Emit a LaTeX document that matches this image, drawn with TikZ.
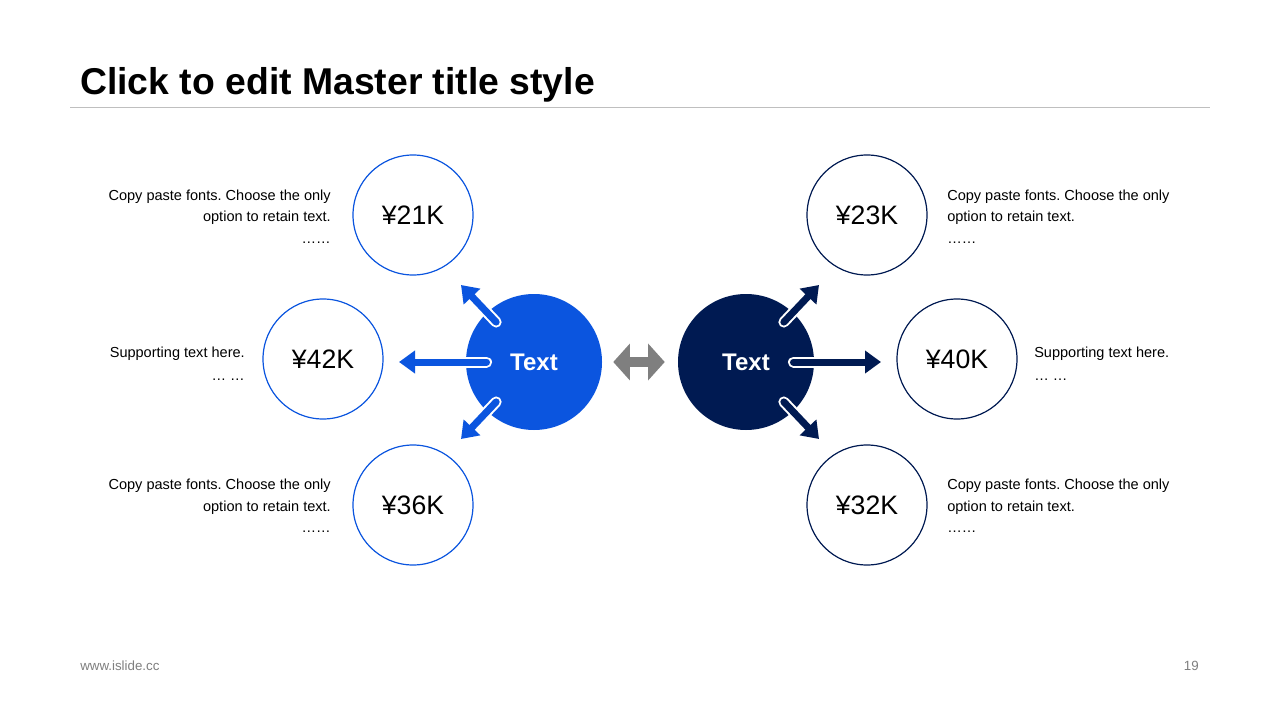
\documentclass[tikz,border=0pt]{standalone}
\usepackage{fontspec}
\setmainfont{Liberation Sans}
\usetikzlibrary{arrows.meta}
\definecolor{cblue}{HTML}{0B55DF}
\definecolor{cnavy}{HTML}{001A52}
\definecolor{cgray}{HTML}{7F7F7F}
\definecolor{cline}{HTML}{BFBFBF}
\definecolor{cfoot}{HTML}{7F7F7F}
\begin{document}
\frenchspacing
\begin{tikzpicture}[x=0.75pt,y=-0.75pt,
  bigcirc/.style={circle, minimum size=102pt, inner sep=0pt, text=white,
    font=\fontsize{18}{21}\selectfont\bfseries},
  ring/.style={circle, draw, line width=0.9pt, fill=white, minimum size=90pt, inner sep=0pt,
    font=\fontsize{20}{24}\selectfont},
  body/.style={inner sep=0pt, font=\fontsize{10.9}{15.9}\selectfont},
  halo/.style={draw=white, line width=8.25pt, line cap=round, shorten >=12pt},
  outarrow/.style={line width=5.25pt, line cap=round,
    -{Triangle[length=12pt,width=16.5pt]}},
  swap/.style={draw=cgray, line width=7.5pt,
    {Triangle[length=12.5pt,width=27pt]}-{Triangle[length=12.5pt,width=27pt]}}
]
\fill[white] (0,0) rectangle (1280,720);
\useasboundingbox (0,0) rectangle (1280,720);

% title
\node[anchor=base west, inner sep=0pt, font=\fontsize{28}{34}\selectfont\bfseries] (title) at (80,95) {Click to edit Master title style};
\draw[cline, line width=0.75pt] (70,108) -- (1210,108);

% central circles
\node[bigcirc, fill=cblue] (L) at (534,362) {Text};
\node[bigcirc, fill=cnavy] (R) at (746,362) {Text};

% outer rings
\node[ring, draw=cblue] (c21) at (413,215) {¥21K};
\node[ring, draw=cblue] (c42) at (323,359) {¥42K};
\node[ring, draw=cblue] (c36) at (413,505) {¥36K};
\node[ring, draw=cnavy] (c23) at (867,215) {¥23K};
\node[ring, draw=cnavy] (c40) at (957,359) {¥40K};
\node[ring, draw=cnavy] (c32) at (867,505) {¥32K};

% arrow tips
\coordinate (tL1) at (461,285);
\coordinate (tL2) at (399,362);
\coordinate (tL3) at (461,439);
\coordinate (tR1) at (819,285);
\coordinate (tR2) at (881,362);
\coordinate (tR3) at (819,439);

\foreach \t/\s in {tL1/41.25pt, tL2/35.6pt, tL3/41.25pt} {
  \draw[halo, shorten <=\s] (L.center) -- (\t);
  \draw[outarrow, draw=cblue, fill=cblue, shorten <=\s] (L.center) -- (\t);
}
\foreach \t/\s in {tR1/41.25pt, tR2/35.6pt, tR3/41.25pt} {
  \draw[halo, shorten <=\s] (R.center) -- (\t);
  \draw[outarrow, draw=cnavy, fill=cnavy, shorten <=\s] (R.center) -- (\t);
}

% swap arrow between the circles
\draw[swap, shorten <=8.25pt, shorten >=9.75pt] (L.east) -- (R.west);

% texts left
\node[body, anchor=north east, align=right] (txL1) at (331,190) {Copy paste fonts. Choose the only\\option to retain text.\\……};
\node[body, anchor=north east, align=right] (txL2) at (245,347) {Supporting text here.\\[1.5pt]… …};
\node[body, anchor=north east, align=right] (txL3) at (331,479) {Copy paste fonts. Choose the only\\option to retain text.\\……};

% texts right
\node[body, anchor=north west, align=left] (txR1) at (947,190) {Copy paste fonts. Choose the only\\option to retain text.\\……};
\node[body, anchor=north west, align=left] (txR2) at (1034,347) {Supporting text here.\\[1.5pt]… …};
\node[body, anchor=north west, align=left] (txR3) at (947,479) {Copy paste fonts. Choose the only\\option to retain text.\\……};

% footer
\node[anchor=base west, inner sep=0pt, text=cfoot, font=\fontsize{10}{12}\selectfont] (foot) at (80,670) {www.islide.cc};
\node[anchor=base east, inner sep=0pt, text=cfoot, font=\fontsize{10}{12}\selectfont] (page) at (1199,670) {19};
\end{tikzpicture}
\end{document}
